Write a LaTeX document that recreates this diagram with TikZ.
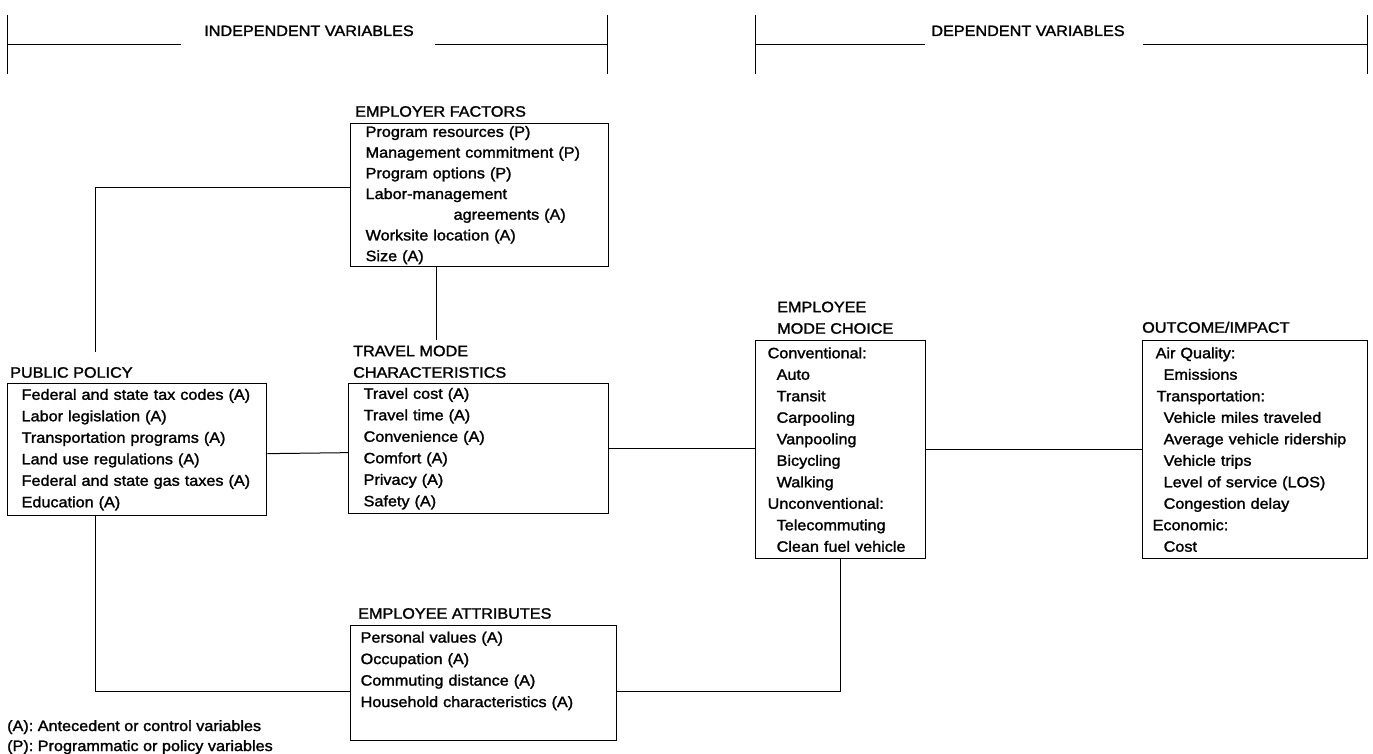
\documentclass[tikz,border=0pt]{standalone}
\usepackage{fontspec}
\setmainfont{Liberation Sans}[FakeStretch=1.08, FakeBold=1.6]
\usetikzlibrary{positioning, calc}

\begin{document}
\begin{tikzpicture}[
    x=1pt, y=-1pt, % pixel grid, y grows downwards
    every node/.style={font=\fontsize{15}{21.5}\selectfont},
    box/.style={draw, line width=1.3pt, anchor=north west, align=left, inner ysep=0pt},
    boxtitle/.style={anchor=south west, align=left, inner sep=0pt},
    wire/.style={line width=1pt},
]
\useasboundingbox (0,0) rectangle (1373,754);

% =========================================================
% 1. Headers
% =========================================================
\node[anchor=base] (indep) at (309,36) {INDEPENDENT VARIABLES};
\draw[wire] (7,15) -- (7,74);
\draw[wire] (7,45) -- (181,45);
\draw[wire] (435,45) -- (607,45);
\draw[wire] (607,15) -- (607,74);

\node[anchor=base] (dep) at (1028,36) {DEPENDENT VARIABLES};
\draw[wire] (755,15) -- (755,74);
\draw[wire] (755,45) -- (925,45);
\draw[wire] (1143,45) -- (1367,45);
\draw[wire] (1367,15) -- (1367,74);

% =========================================================
% 2. Independent variables
% =========================================================
% Employer factors (rows a little tighter)
\node[box, font=\fontsize{15}{20.7}\selectfont, inner xsep=15pt, text width=228pt, minimum height=143pt] (EF) at (350,123) {
    Program resources (P)\\
    Management commitment (P)\\
    Program options (P)\\
    Labor-management\\
    \hspace*{88pt}agreements (A)\\
    Worksite location (A)\\
    Size (A)};
\node[boxtitle] (EFt) at ([xshift=5pt, yshift=6pt]EF.north west) {EMPLOYER FACTORS};

% Public policy
\node[box, inner xsep=14pt, text width=231pt, minimum height=132pt] (PP) at (7,383) {
    Federal and state tax codes (A)\\
    Labor legislation (A)\\
    Transportation programs (A)\\
    Land use regulations (A)\\
    Federal and state gas taxes (A)\\
    Education (A)};
\node[boxtitle] (PPt) at ([xshift=3pt, yshift=5pt]PP.north west) {PUBLIC POLICY};

% Travel mode characteristics
\node[box, inner xsep=15pt, text width=230pt, minimum height=130pt] (TM) at (348,383) {
    Travel cost (A)\\
    Travel time (A)\\
    Convenience (A)\\
    Comfort (A)\\
    Privacy (A)\\
    Safety (A)};
\node[boxtitle] (TMt) at ([xshift=5pt, yshift=5pt]TM.north west) {TRAVEL MODE\\CHARACTERISTICS};

% Employee attributes (empty line left at the bottom)
\node[box, inner xsep=10pt, text width=246pt, minimum height=115pt] (EA) at (350,625) {
    Personal values (A)\\
    Occupation (A)\\
    Commuting distance (A)\\
    Household characteristics (A)\\[6pt]
    \mbox{}};
\node[boxtitle] (EAt) at ([xshift=8pt, yshift=6pt]EA.north west) {EMPLOYEE ATTRIBUTES};

% =========================================================
% 3. Dependent variables
% =========================================================
% Employee mode choice
\node[box, inner xsep=12pt, text width=146pt, minimum height=218pt] (MC) at (755,340) {
    Conventional:\\
    \hspace*{9pt}Auto\\
    \hspace*{9pt}Transit\\
    \hspace*{9pt}Carpooling\\
    \hspace*{9pt}Vanpooling\\
    \hspace*{9pt}Bicycling\\
    \hspace*{9pt}Walking\\
    Unconventional:\\
    \hspace*{9pt}Telecommuting\\
    \hspace*{9pt}Clean fuel vehicle};
\node[boxtitle] (MCt) at ([xshift=22pt, yshift=6pt]MC.north west) {EMPLOYEE\\MODE CHOICE};

% Outcome / impact
\node[box, inner xsep=10pt, text width=205pt, minimum height=218pt] (OI) at (1142,340) {
    \hspace*{3pt}Air Quality:\\
    \hspace*{11pt}Emissions\\
    \hspace*{4pt}Transportation:\\
    \hspace*{11pt}Vehicle miles traveled\\
    \hspace*{11pt}Average vehicle ridership\\
    \hspace*{11pt}Vehicle trips\\
    \hspace*{11pt}Level of service (LOS)\\
    \hspace*{11pt}Congestion delay\\
    Economic:\\
    \hspace*{11pt}Cost};
\node[boxtitle] (OIt) at ([xshift=0pt, yshift=7pt]OI.north west) {OUTCOME/IMPACT};

% =========================================================
% 4. Connectors
% =========================================================
% Public policy -> Employer factors
\coordinate (ppTop) at (95,352);
\draw[wire] (ppTop) |- ([yshift=7.5pt]EF.west);

% Public policy -> Employee attributes
\draw[wire] (PP.south -| ppTop) |- ([yshift=-8.5pt]EA.west);

% Public policy -> Travel mode
\draw[wire] ([yshift=-4pt]PP.east) -- ([yshift=-4pt]TM.west);

% Employer factors -> Travel mode
\coordinate (tmTop) at (436,340);
\draw[wire] (EF.south -| tmTop) -- (tmTop);

% Travel mode -> Mode choice -> Outcome
\draw[wire] (TM.east) -- (TM.east -| MC.west);
\draw[wire] (MC.east) -- (MC.east -| OI.west);

% Employee attributes -> Mode choice
\draw[wire] ([yshift=-8.5pt]EA.east) -| (MC.south);

% =========================================================
% 5. Legend
% =========================================================
\node[anchor=base west, inner sep=0pt] (legA) at (7,731) {(A): Antecedent or control variables};
\node[anchor=base west, inner sep=0pt] (legP) at (7,751) {(P): Programmatic or policy variables};

\end{tikzpicture}
\end{document}
